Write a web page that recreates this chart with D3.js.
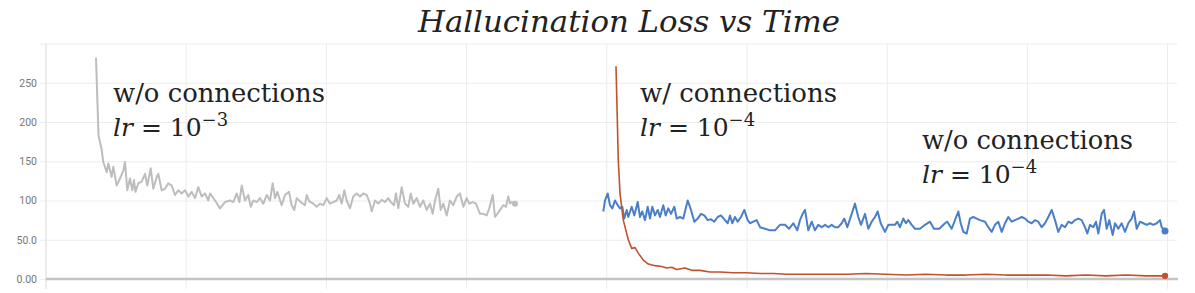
<!DOCTYPE html>
<html lang="en">
<head>
  <meta charset="UTF-8" />
  <title>Hallucination Loss vs Time</title>
  <script src="https://d3js.org/d3.v7.min.js"></script>
  <style>
    body { margin: 0; background: #fff; }
    .tick-label { font-family: Roboto, "Liberation Sans", sans-serif; font-size: 10.5px; fill: #777; }
  </style>
</head>
<body>
  <div id="chart"></div>
  <script>
    // y ticks as shown on the left
    const yTicks = [0, 50, 100, 150, 200, 250];

    // time (k steps) / loss pairs
    const grayRun = [
      [5.00,282],[5.25,183],[5.55,166],[5.73,149],[6.07,136],[6.23,147],[6.57,130],[6.73,143],[7.07,119],[7.40,128],
      [7.73,138],[7.90,149],[8.13,113],[8.40,128],[8.63,113],[8.80,126],[8.95,111],[9.23,122],[9.57,124],[9.90,134],
      [10.13,119],[10.47,141],[10.73,115],[11.07,130],[11.23,134],[11.57,113],[11.90,115],[12.23,122],[12.57,119],[12.90,107],
      [13.23,113],[13.57,109],[13.90,113],[14.23,105],[14.57,111],[14.90,103],[15.23,117],[15.57,105],[15.90,109],[16.23,100],
      [16.40,109],[16.90,100],[17.40,90],[17.90,98],[18.40,100],[18.73,98],[19.07,109],[19.33,98],[19.57,119],[19.90,100],
      [20.23,107],[20.47,92],[20.73,100],[21.07,98],[21.40,103],[21.73,96],[22.07,107],[22.40,100],[22.67,122],[22.90,103],
      [23.13,111],[23.57,94],[23.90,107],[24.30,111],[24.57,94],[24.83,88],[25.07,103],[25.47,98],[25.90,94],[26.07,107],
      [26.33,99],[26.73,96],[27.07,92],[27.40,96],[27.73,94],[28.07,103],[28.40,96],[28.73,98],[29.07,100],[29.33,107],
      [29.57,96],[29.83,113],[30.07,100],[30.40,90],[30.73,105],[31.07,109],[31.40,105],[31.73,109],[32.07,107],[32.40,96],
      [32.57,86],[32.90,100],[33.23,96],[33.57,101],[33.90,98],[34.23,103],[34.47,98],[34.80,94],[35.00,109],[35.23,90],
      [35.57,117],[35.90,96],[36.23,92],[36.47,109],[36.73,96],[37.07,103],[37.40,92],[37.73,100],[38.07,88],[38.40,96],
      [38.67,83],[38.90,100],[39.23,115],[39.47,88],[39.73,96],[40.07,81],[40.40,100],[40.73,94],[41.07,105],[41.40,109],
      [41.73,92],[42.07,103],[42.33,96],[42.67,98],[43.00,96],[43.40,83],[43.73,83],[44.07,81],[44.33,90],[44.67,107],
      [44.90,79],[45.13,83],[45.40,88],[45.73,94],[46.00,92],[46.23,105],[46.40,96],[46.57,98],[46.90,96]
    ];

    const blueRun = [
      [55.73,86],[55.90,100],[56.17,109],[56.40,94],[56.63,90],[56.90,100],[57.17,94],[57.40,90],[57.63,92],[57.83,77],
      [58.07,88],[58.23,79],[58.57,92],[58.83,81],[59.17,98],[59.40,79],[59.63,86],[59.90,75],[60.17,92],[60.40,77],
      [60.63,92],[60.90,81],[61.17,88],[61.40,79],[61.73,94],[61.97,81],[62.23,90],[62.50,83],[62.83,92],[63.07,77],
      [63.40,79],[63.73,77],[64.17,100],[64.50,88],[64.83,73],[65.17,77],[65.50,83],[65.83,81],[66.17,75],[66.50,76],
      [66.83,73],[67.17,79],[67.50,81],[67.83,76],[68.17,71],[68.40,81],[68.63,71],[68.90,79],[69.17,73],[69.50,79],
      [69.83,88],[70.17,75],[70.40,71],[70.73,73],[71.07,75],[71.40,66],[71.90,64],[72.40,62],[72.90,62],[73.40,69],
      [73.90,69],[74.30,64],[74.73,71],[75.13,62],[75.40,75],[75.67,83],[75.90,88],[76.23,62],[76.57,73],[76.90,62],
      [77.23,69],[77.57,66],[77.90,69],[78.23,66],[78.57,69],[78.90,66],[79.23,66],[79.57,71],[79.83,77],[80.13,66],
      [80.57,83],[80.90,96],[81.23,79],[81.50,69],[81.90,83],[82.23,64],[82.57,73],[82.90,79],[83.17,86],[83.47,71],
      [83.90,60],[84.23,69],[84.57,69],[84.90,69],[85.13,73],[85.40,66],[85.73,77],[86.00,71],[86.23,75],[86.57,69],
      [86.90,64],[87.40,64],[87.90,69],[88.40,73],[88.80,64],[89.33,64],[89.90,71],[90.13,73],[90.57,64],[90.90,75],
      [91.23,86],[91.47,71],[91.73,60],[92.07,58],[92.40,77],[92.73,79],[93.07,77],[93.40,75],[93.90,73],[94.23,66],
      [94.57,60],[94.90,69],[95.23,73],[95.57,60],[95.90,71],[96.23,79],[96.57,73],[96.90,75],[97.23,77],[97.57,79],
      [97.90,77],[98.23,73],[98.57,71],[98.90,75],[99.23,73],[99.57,66],[99.90,71],[100.23,79],[100.57,88],[100.90,75],
      [101.23,60],[101.57,69],[101.90,66],[102.23,73],[102.57,71],[102.90,75],[103.23,77],[103.57,75],[103.90,66],[104.13,58],
      [104.40,69],[104.73,66],[105.00,73],[105.23,58],[105.57,83],[105.80,88],[106.07,64],[106.33,75],[106.67,56],[106.90,71],
      [107.23,64],[107.57,71],[107.90,60],[108.23,71],[108.57,77],[108.80,86],[109.07,64],[109.40,73],[109.73,71],[110.07,69],
      [110.40,71],[110.73,69],[111.07,71],[111.40,75],[111.57,66],[111.90,61]
    ];

    const redRun = [
      [57.00,271],[57.23,151],[57.40,109],[57.73,75],[58.23,50],[58.57,39],[58.90,40],[59.23,33],[59.73,24],[60.23,19],
      [60.90,17],[61.57,16],[62.07,14],[62.57,15],[63.07,12],[63.90,14],[64.57,11],[65.40,11],[66.40,9],[67.40,9],
      [68.73,8],[70.07,8],[71.40,7],[72.73,7],[74.07,6],[75.40,6],[77.07,6],[78.73,6],[80.07,6],[82.00,7],
      [84.00,6],[86.00,5],[88.00,6],[90.00,5],[92.00,5],[94.00,6],[96.00,5],[98.00,5],[100.00,5],[102.00,4],
      [104.00,5],[106.00,4],[108.00,5],[110.00,4],[111.90,4]
    ];

    // annotations: [line1, exponent, x (k steps), y (loss) of first baseline]
    const notes = [
      ["w/o connections", "\u22123", 6.7, 226],
      ["w/ connections", "\u22124", 59.4, 226],
      ["w/o connections", "\u22124", 87.6, 166]
    ];
    const noteWidths = [212, 197, 211];

    const SERIF = "'DejaVu Serif', serif";
    const W = 1195, H = 293;
    const margin = { top: 43.5, right: 18, bottom: 14, left: 46 };

    const svg = d3.select("#chart").append("svg")
      .attr("width", W).attr("height", H);

    const x = d3.scaleLinear().domain([0, 113.1]).range([margin.left, W - margin.right]);
    const y = d3.scaleLinear().domain([0, 300]).range([H - margin.bottom, margin.top]);

    // title
    svg.append("text")
      .attr("x", 418).attr("y", 31.5)
      .attr("textLength", 422).attr("lengthAdjust", "spacingAndGlyphs")
      .attr("font-family", SERIF)
      .attr("font-style", "italic")
      .attr("font-weight", 300)
      .attr("font-size", 29)
      .attr("fill", "#222")
      .text("Hallucination Loss vs Time");

    // vertical grid
    const xGrid = d3.range(0, 9).map(i => i * 14.02);
    svg.append("g")
      .selectAll("line").data(xGrid).join("line")
      .attr("x1", d => x(d)).attr("x2", d => x(d))
      .attr("y1", y(300)).attr("y2", y(0) + 10)
      .attr("stroke", "#ececec").attr("stroke-width", 1);

    // horizontal grid + labels
    svg.append("g")
      .attr("transform", `translate(${margin.left},0)`)
      .call(d3.axisLeft(y).tickValues(yTicks.concat([300])).tickSize(-(W - margin.right - margin.left) - 6)
        .tickFormat(d => d === 300 ? "" : d3.format(".3r")(d)).tickPadding(3))
      .call(g => g.select(".domain").remove())
      .call(g => g.selectAll("line").attr("stroke", "#ececec").attr("transform", "translate(-6,0)"))
      .call(g => g.selectAll("text").attr("class", "tick-label").attr("x", -9));

    // left axis line
    svg.append("line")
      .attr("x1", x(0)).attr("x2", x(0))
      .attr("y1", y(300)).attr("y2", y(0) + 10)
      .attr("stroke", "#e3e3e3");

    // bottom axis line
    svg.append("line")
      .attr("x1", x(0)).attr("x2", W - margin.right + 1)
      .attr("y1", y(0)).attr("y2", y(0))
      .attr("stroke", "#c4c4c4").attr("stroke-width", 2.5);

    const line = d3.line().x(d => x(d[0])).y(d => y(d[1]));

    const series = [
      { data: grayRun, color: "#bdbdbd", w: 2, r: 3 },
      { data: blueRun, color: "#4a7fc8", w: 2, r: 3.5 },
      { data: redRun, color: "#c2512d", w: 1.6, r: 3.2 }
    ];

    series.forEach(s => {
      svg.append("path")
        .datum(s.data)
        .attr("fill", "none")
        .attr("stroke", s.color)
        .attr("stroke-width", s.w)
        .attr("stroke-linejoin", "round")
        .attr("d", line);
      const last = s.data[s.data.length - 1];
      svg.append("circle")
        .attr("cx", x(last[0])).attr("cy", y(last[1]))
        .attr("r", s.r).attr("fill", s.color);
    });

    // annotations
    notes.forEach(([label, expo, nx, ny], i) => {
      const bx = x(nx), by = y(ny);
      svg.append("text")
        .attr("x", bx).attr("y", by)
        .attr("font-family", SERIF).attr("font-size", 26).attr("fill", "#222")
        .attr("textLength", noteWidths[i]).attr("lengthAdjust", "spacingAndGlyphs")
        .text(label);
      const t = svg.append("text")
        .attr("x", bx).attr("y", by + 34)
        .attr("font-family", SERIF).attr("font-size", 25).attr("fill", "#222");
      t.append("tspan").attr("font-style", "italic").text("lr");
      t.append("tspan").text(" = 10");
      t.append("tspan").attr("dy", -10).attr("font-size", 18).text(expo);
    });
  </script>
</body>
</html>
